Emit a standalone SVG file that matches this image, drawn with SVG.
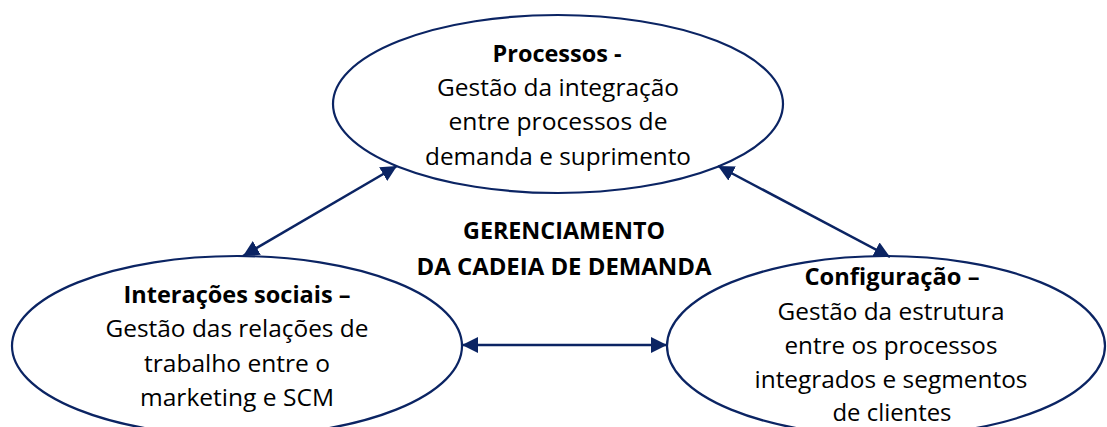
<svg xmlns="http://www.w3.org/2000/svg" width="1107" height="427" viewBox="0 0 1107 427">
<style>
.n{fill:#ffffff;stroke:#0b2463;stroke-width:2.2}
.t{font-family:"Open Sans","Noto Sans","Liberation Sans",sans-serif;font-size:23px;fill:#000;text-anchor:middle}
.b{font-weight:bold}
.c{stroke:#0b2463;stroke-width:2.5;fill:none;marker-start:url(#ah);marker-end:url(#ah)}
</style>
<defs>
<marker id="ah" viewBox="0 0 16 16" refX="16" refY="8" markerWidth="16" markerHeight="16" markerUnits="userSpaceOnUse" orient="auto-start-reverse">
<path d="M0,0 L16,8 L0,16 Z" fill="#0b2463"/>
</marker>
</defs>
<rect width="1107" height="427" fill="#ffffff"/>
<g id="processos">
<ellipse class="n" cx="558" cy="104" rx="225" ry="89"/>
<text class="t b" x="557" y="62" textLength="129" lengthAdjust="spacingAndGlyphs">Processos -</text>
<text class="t" x="558" y="96" textLength="242" lengthAdjust="spacingAndGlyphs">Gestão da integração</text>
<text class="t" x="558" y="130" textLength="219" lengthAdjust="spacingAndGlyphs">entre processos de</text>
<text class="t" x="558" y="165" textLength="266" lengthAdjust="spacingAndGlyphs">demanda e suprimento</text>
</g>
<g id="interacoes">
<ellipse class="n" cx="237" cy="346" rx="225" ry="90"/>
<text class="t b" x="237" y="303" textLength="227" lengthAdjust="spacingAndGlyphs">Interações sociais –</text>
<text class="t" x="237" y="337" textLength="263" lengthAdjust="spacingAndGlyphs">Gestão das relações de</text>
<text class="t" x="237" y="372" textLength="186" lengthAdjust="spacingAndGlyphs">trabalho entre o</text>
<text class="t" x="237" y="406" textLength="194" lengthAdjust="spacingAndGlyphs">marketing e SCM</text>
</g>
<g id="configuracao">
<ellipse class="n" cx="886" cy="346" rx="219" ry="90"/>
<text class="t b" x="892" y="285" textLength="175" lengthAdjust="spacingAndGlyphs">Configuração –</text>
<text class="t" x="891" y="320" textLength="227" lengthAdjust="spacingAndGlyphs">Gestão da estrutura</text>
<text class="t" x="891" y="354" textLength="213" lengthAdjust="spacingAndGlyphs">entre os processos</text>
<text class="t" x="891" y="388" textLength="273" lengthAdjust="spacingAndGlyphs">integrados e segmentos</text>
<text class="t" x="892" y="421" textLength="119" lengthAdjust="spacingAndGlyphs">de clientes</text>
</g>
<g id="titulo">
<text class="t b" x="564" y="239" textLength="202" lengthAdjust="spacingAndGlyphs">GERENCIAMENTO</text>
<text class="t b" x="564" y="275" textLength="295" lengthAdjust="spacingAndGlyphs">DA CADEIA DE DEMANDA</text>
</g>
<g id="connectors">
<line class="c" x1="243" y1="256" x2="397" y2="166"/>
<line class="c" x1="718" y1="166" x2="890" y2="257"/>
<line class="c" x1="462" y1="345" x2="667" y2="345"/>
</g>
</svg>
